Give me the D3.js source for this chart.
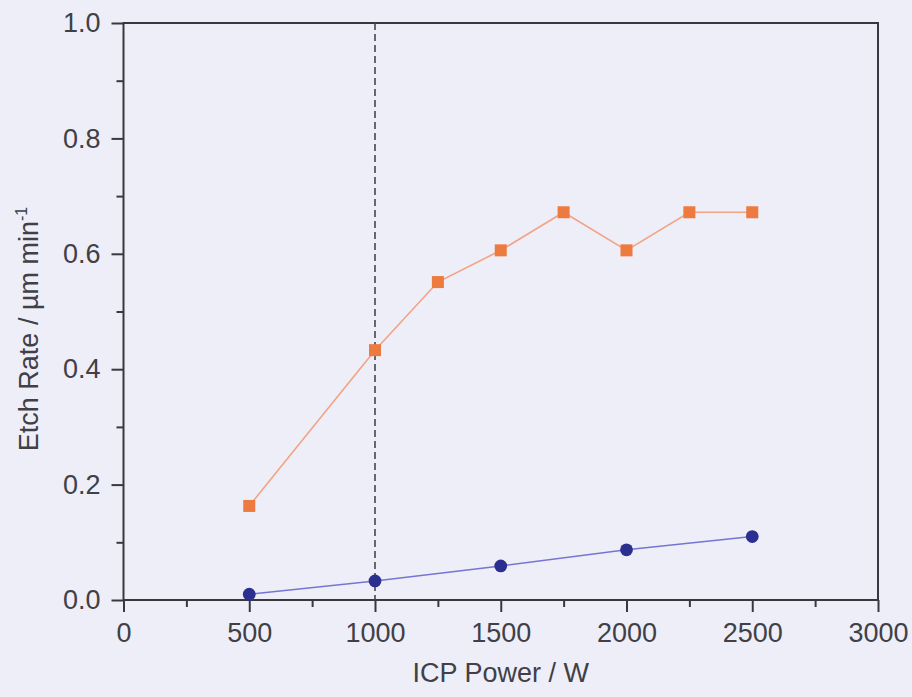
<!DOCTYPE html>
<html><head><meta charset="utf-8">
<script src="https://cdn.jsdelivr.net/npm/d3@7"></script>
<style>body{margin:0;background:#eeeef8;}svg{display:block;}</style>
</head><body>
<script>
const powerSquares = [500, 1000, 1250, 1500, 1750, 2000, 2250, 2500];
const rateSquares = [0.163, 0.433, 0.551, 0.606, 0.672, 0.606, 0.672, 0.672];
const powerCircles = [500, 1000, 1500, 2000, 2500];
const rateCircles = [0.010, 0.033, 0.059, 0.087, 0.110];
const xTicks = [0, 500, 1000, 1500, 2000, 2500, 3000];
const yTicks = [0.0, 0.2, 0.4, 0.6, 0.8, 1.0];
const xMinorTicks = [250, 750, 1250, 1750, 2250, 2750];
const yMinorTicks = [0.1, 0.3, 0.5, 0.7, 0.9];
const markerLine = 1000;

const W = 912, H = 697;
const m = {left: 123.5, right: 878, top: 23, bottom: 600};
const svg = d3.select("body").append("svg").attr("width", W).attr("height", H);
svg.append("rect").attr("width", W).attr("height", H).attr("fill", "#eeeef8");

const x = d3.scaleLinear().domain([0, 3000]).range([m.left, m.right]);
const y = d3.scaleLinear().domain([0, 1]).range([m.bottom, m.top]);
const axisColor = "#38383f";
const textColor = "#404046";
const font = "'Liberation Sans', Arial, Helvetica, sans-serif";
const fs = "27px";

// frame
svg.append("rect").attr("x", m.left).attr("y", m.top).attr("width", m.right - m.left).attr("height", m.bottom - m.top)
  .attr("fill", "none").attr("stroke", axisColor).attr("stroke-width", 2);

// axes
const xAxis = svg.append("g").attr("transform", `translate(0,${m.bottom})`)
  .call(d3.axisBottom(x).tickValues(xTicks).tickFormat(d3.format("d")).tickSize(12).tickPadding(11));
const xMinor = svg.append("g").attr("transform", `translate(0,${m.bottom})`)
  .call(d3.axisBottom(x).tickValues(xMinorTicks).tickFormat("").tickSize(7));
const yAxis = svg.append("g").attr("transform", `translate(${m.left},0)`)
  .call(d3.axisLeft(y).tickValues(yTicks).tickFormat(d3.format(".1f")).tickSize(12).tickPadding(11));
const yMinor = svg.append("g").attr("transform", `translate(${m.left},0)`)
  .call(d3.axisLeft(y).tickValues(yMinorTicks).tickFormat("").tickSize(7));
[xAxis, xMinor, yAxis, yMinor].forEach(g => {
  g.select(".domain").remove();
  g.selectAll("line").attr("stroke", axisColor).attr("stroke-width", 2);
  g.selectAll("text").attr("fill", textColor).style("font-family", font).style("font-size", fs);
});

// dashed vertical line
svg.append("line").attr("x1", x(markerLine)).attr("x2", x(markerLine)).attr("y1", y(1)).attr("y2", y(0))
  .attr("stroke", "#45454f").attr("stroke-width", 1.6).attr("stroke-dasharray", "7,4");

// orange series
const sq = powerSquares.map((p, i) => [p, rateSquares[i]]);
svg.append("path").datum(sq).attr("fill", "none").attr("stroke", "#f3a283").attr("stroke-width", 1.6)
  .attr("d", d3.line().x(d => x(d[0])).y(d => y(d[1])));
svg.selectAll(".sq").data(sq).enter().append("rect")
  .attr("x", d => x(d[0]) - 6).attr("y", d => y(d[1]) - 6).attr("width", 12).attr("height", 12)
  .attr("fill", "#ed7a3e");

// blue series
const ci = powerCircles.map((p, i) => [p, rateCircles[i]]);
svg.append("path").datum(ci).attr("fill", "none").attr("stroke", "#7575d4").attr("stroke-width", 1.6)
  .attr("d", d3.line().x(d => x(d[0])).y(d => y(d[1])));
svg.selectAll(".ci").data(ci).enter().append("circle")
  .attr("cx", d => x(d[0])).attr("cy", d => y(d[1])).attr("r", 6.4)
  .attr("fill", "#2b2f8f");

// axis titles
svg.append("text").attr("x", (m.left + m.right) / 2).attr("y", 682).attr("text-anchor", "middle")
  .style("font-family", font).style("font-size", fs).attr("fill", textColor).text("ICP Power / W");
const yl = svg.append("text").attr("transform", `translate(38,329) rotate(-90)`)
  .attr("text-anchor", "middle").style("font-family", font).style("font-size", fs).attr("fill", textColor);
yl.append("tspan").text("Etch Rate / µm min");
yl.append("tspan").attr("dy", -11).style("font-size", "16px").text("-1");
</script>
</body></html>
